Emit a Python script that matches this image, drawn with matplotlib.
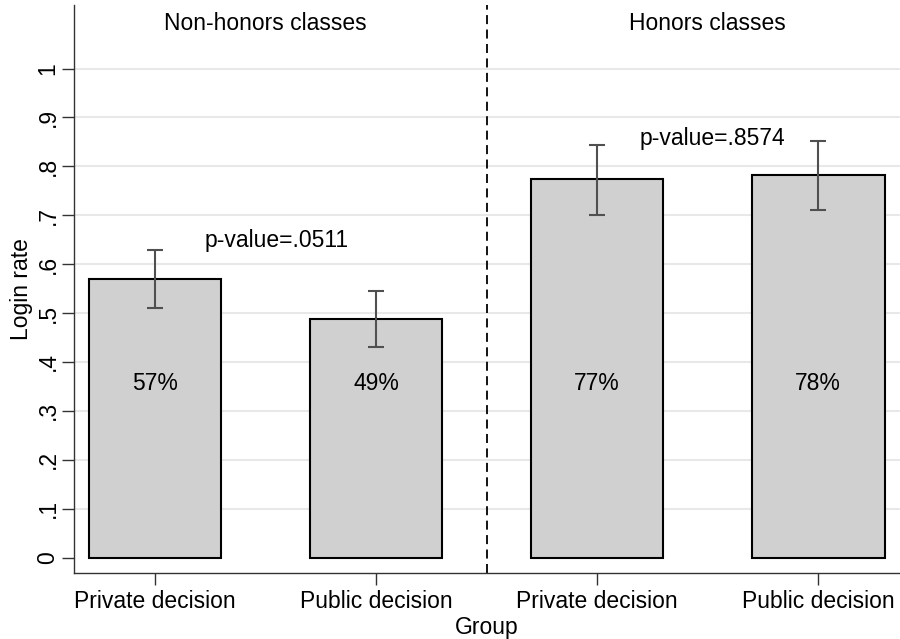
import matplotlib
matplotlib.use("Agg")
import matplotlib.pyplot as plt
import numpy as np

plt.rcParams['font.family'] = ['Liberation Sans', 'DejaVu Sans']

categories = ["Private decision", "Public decision", "Private decision", "Public decision"]
login_rate = [0.570, 0.488, 0.774, 0.782]
ci_low = [0.511, 0.430, 0.700, 0.711]
ci_high = [0.629, 0.546, 0.844, 0.852]
bar_labels = ["57%", "49%", "77%", "78%"]
panel_titles = ["Non-honors classes", "Honors classes"]
pvalues = ["p-value=.0511", "p-value=.8574"]
yticks = [0, 0.1, 0.2, 0.3, 0.4, 0.5, 0.6, 0.7, 0.8, 0.9, 1.0]
ytick_labels = ["0", ".1", ".2", ".3", ".4", ".5", ".6", ".7", ".8", ".9", "1"]

FS = 16.5

fig = plt.figure(figsize=(9, 6.39), dpi=100)
ax = fig.add_axes([74/900, 1-572.7/639, 1-74/900, (572.7-5)/639])

x = np.arange(1, len(login_rate)+1)
ax.set_xlim(0.633, 4.37)
ax.set_ylim(-0.031, 1.13)

for yv in yticks[1:]:
    ax.axhline(yv, color='#e8e8e8', lw=1.5, zorder=0)

ax.bar(x, login_rate, width=0.6, color='#d0d0d0', edgecolor='black', linewidth=1.5, zorder=2)
err = [np.array(login_rate)-np.array(ci_low), np.array(ci_high)-np.array(login_rate)]
ax.errorbar(x, login_rate, yerr=err, fmt='none', ecolor='#505050', elinewidth=1.5, capsize=6, capthick=1.5, zorder=3)

for xi, lab in zip(x, bar_labels):
    ax.text(xi, 0.355, lab, ha='center', va='center', fontsize=FS)

ax.axvline(2.5, color='black', lw=1.3, ls=(0, (5, 3)), zorder=1)

ax.text(1.5, 1.093, panel_titles[0], ha='center', va='center', fontsize=FS)
ax.text(3.5, 1.093, panel_titles[1], ha='center', va='center', fontsize=FS)
ax.text(1.55, 0.648, pvalues[0], ha='center', va='center', fontsize=FS)
ax.text(3.52, 0.858, pvalues[1], ha='center', va='center', fontsize=FS)

ax.set_xticks(x)
ax.set_xticklabels(categories, fontsize=FS)
ax.set_yticks(yticks)
ax.set_yticklabels(ytick_labels, fontsize=FS, rotation=90, va='center')
ax.tick_params(axis='both', direction='out', length=8.5, width=1, color='#333333', pad=4)
ax.tick_params(axis='y', pad=2)

for s in ['top', 'right']:
    ax.spines[s].set_visible(False)
for s in ['left', 'bottom']:
    ax.spines[s].set_color('#333333')
    ax.spines[s].set_linewidth(1)

ax.set_ylabel("Login rate", fontsize=FS)
ax.yaxis.set_label_coords(-41/826, 0.5)
ax.set_xlabel("Group", fontsize=FS, labelpad=2)

fig.savefig("out.png", dpi=100)
